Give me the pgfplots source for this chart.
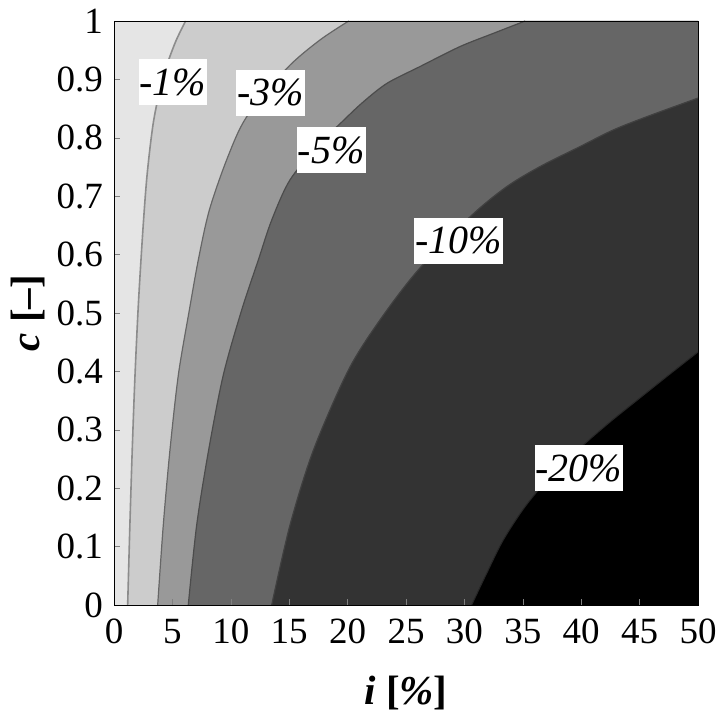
\documentclass[border=0pt]{standalone}
\usepackage{fontspec}
\setmainfont{Liberation Serif}
\usepackage{pgfplots}
\pgfplotsset{compat=1.18}
\usepackage{pgfplotstable}
\definecolor{r0}{gray}{0.90}
\definecolor{r1}{gray}{0.80}
\definecolor{r2}{gray}{0.60}
\definecolor{r3}{gray}{0.40}
\definecolor{r4}{gray}{0.20}
\definecolor{r5}{gray}{0.0}
\pgfplotstableread{
i c
1.17 0
1.36 0.137
1.56 0.265
1.80 0.394
2.10 0.52
2.50 0.65
2.85 0.74
3.40 0.83
4.22 0.905
5.22 0.962
6.13 1
}\cone
\pgfplotstableread{
i c
3.74 0
4.22 0.137
4.79 0.265
5.51 0.394
6.45 0.505
7.22 0.591
8.16 0.676
9.7 0.765
11.36 0.836
14.8 0.919
17.6 0.967
20.1 1
}\cthree
\pgfplotstableread{
i c
6.36 0
7.08 0.137
8.1 0.265
9.36 0.394
10.93 0.505
12.36 0.591
13.5 0.659
15.07 0.728
17.64 0.791
19.35 0.824
21.2 0.859
23.35 0.893
26.2 0.922
29.6 0.956
32.5 0.979
35.2 1
}\cfive
\pgfplotstableread{
i c
13.5 0
15.07 0.137
17.07 0.265
20.06 0.402
22.77 0.488
26.06 0.574
30.5 0.665
33.6 0.716
36.5 0.751
39.9 0.785
42.7 0.813
45.6 0.836
50 0.868
}\cten
\pgfplotstableread{
i c
30.62 0
31.91 0.0543
33.33 0.1113
35.19 0.1683
37.33 0.2192
39.90 0.2688
42.47 0.3134
45.03 0.3545
47.60 0.3955
50.0 0.4332
}\ctwenty
\begin{document}
\begin{tikzpicture}
\begin{axis}[
  scale only axis, width=292pt, height=292pt,
  xmin=0, xmax=50, ymin=0, ymax=1,
  xtick={0,5,...,50}, ytick={0,0.1,...,1},
  yticklabels={0,0.1,0.2,0.3,0.4,0.5,0.6,0.7,0.8,0.9,1},
  xtick pos=bottom, ytick pos=left, tick align=inside,
  major tick length=3pt,
  /pgf/number format/assume math mode=true,
  tick label style={font=\fontsize{18.5}{20}\selectfont},
  xticklabel style={yshift=-3.5pt},
  yticklabel style={xshift=-2pt},
  axis background/.style={fill=r0},
  axis on top,
  xlabel={\textbf{\textit{i} [\textit{\%}]}},
  ylabel={\textbf{\textit{c} [--]}},
  label style={font=\fontsize{20.5}{22}\selectfont},
  xlabel style={at={(axis description cs:0.5,-0.171)}, anchor=base},
  ylabel style={at={(axis description cs:-0.147,0.5)}, anchor=center},
]
\addplot[smooth, fill=r1, draw=none] table {\cone} -- (axis cs:50,1) -- (axis cs:50,0) -- cycle;
\addplot[smooth, fill=r2, draw=none] table {\cthree} -- (axis cs:50,1) -- (axis cs:50,0) -- cycle;
\addplot[smooth, fill=r3, draw=none] table {\cfive} -- (axis cs:50,1) -- (axis cs:50,0) -- cycle;
\addplot[smooth, fill=r4, draw=none] table {\cten} -- (axis cs:50,0) -- cycle;
\addplot[smooth, fill=r5, draw=none] table {\ctwenty} -- (axis cs:50,0) -- cycle;
\addplot[smooth, gray!110!black, line width=0.8pt] table {\cone};
\addplot[smooth, black!60, line width=0.6pt] table {\cthree};
\addplot[smooth, black!70, line width=0.6pt] table {\cfive};
\addplot[smooth, black!75, line width=0.6pt] table {\cten};
\addplot[smooth, black!85, line width=0.5pt] table {\ctwenty};
\tikzset{lab/.style={fill=white, inner xsep=0.5pt, inner ysep=0pt, minimum height=23pt, font=\fontsize{20}{22}\selectfont\itshape}}
\node[lab] at (axis cs:5.05,0.895) {-1\%};
\node[lab] at (axis cs:13.42,0.877) {-3\%};
\node[lab] at (axis cs:18.6,0.779) {-5\%};
\node[lab] at (axis cs:29.5,0.624) {-10\%};
\node[lab] at (axis cs:39.8,0.234) {-20\%};
\coordinate (ll) at (rel axis cs:0,0);
\coordinate (ur) at (rel axis cs:1,1);
\end{axis}
\pgfresetboundingbox
\path ([shift={(-57pt,-55.5pt)}]ll) rectangle ([shift={(11pt,10.5pt)}]ur);
\end{tikzpicture}
\end{document}
